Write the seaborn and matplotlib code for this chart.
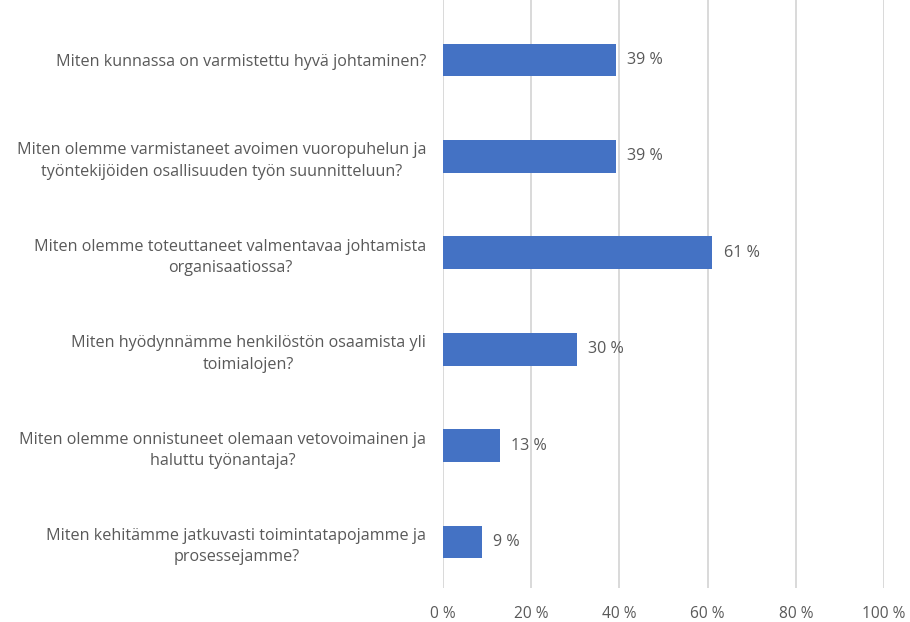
import matplotlib
matplotlib.use("Agg")
import matplotlib.pyplot as plt
import pandas as pd
import seaborn as sns

questions = [
    "Miten kunnassa on varmistettu hyvä johtaminen?",
    "Miten olemme varmistaneet avoimen vuoropuhelun ja\ntyöntekijöiden osallisuuden työn suunnitteluun?",
    "Miten olemme toteuttaneet valmentavaa johtamista\norganisaatiossa?",
    "Miten hyödynnämme henkilöstön osaamista yli\ntoimialojen?",
    "Miten olemme onnistuneet olemaan vetovoimainen ja\nhaluttu työnantaja?",
    "Miten kehitämme jatkuvasti toimintatapojamme ja\nprosessejamme?",
]
shares = [39.2, 39.2, 61.1, 30.4, 13.0, 8.8]
shown = [39, 39, 61, 30, 13, 9]
x_ticks = [0, 20, 40, 60, 80, 100]

sns.set_style("white")
plt.rcParams["font.family"] = ["Open Sans", "DejaVu Sans"]
TXT = "#595959"

df = pd.DataFrame({"question": questions, "share": shares})

fig = plt.figure(figsize=(9.1, 6.22), dpi=100)
ax = fig.add_axes([443 / 910, 1 - 588 / 622, (884 - 443) / 910, 588 / 622])
sns.barplot(data=df, x="share", y="question", color="#4472C4", width=0.34,
            saturation=1, linewidth=0, ax=ax)

ax.set_xlim(0, 100)
ax.set_ylim(5.477, -0.622)
ax.set_xticks(x_ticks)
ax.set_xticklabels([f"{t} %" for t in x_ticks], color=TXT, fontsize=11.2)
ax.tick_params(axis="x", length=0, pad=13)
ax.tick_params(axis="y", length=0, pad=12)
for lab in ax.get_yticklabels():
    lab.set_multialignment("center")
    lab.set_linespacing(1.45)
    lab.set_color(TXT)
    lab.set_fontsize(11.6)
ax.set_xlabel("")
ax.set_ylabel("")
ax.grid(axis="x", color="#D9D9D9", linewidth=1.4)
ax.set_axisbelow(True)
for s in ax.spines.values():
    s.set_visible(False)

ax.bar_label(ax.containers[0], labels=[f"{v} %" for v in shown],
             padding=8, color=TXT, fontsize=11.6)

fig.savefig("out.png", dpi=100)
